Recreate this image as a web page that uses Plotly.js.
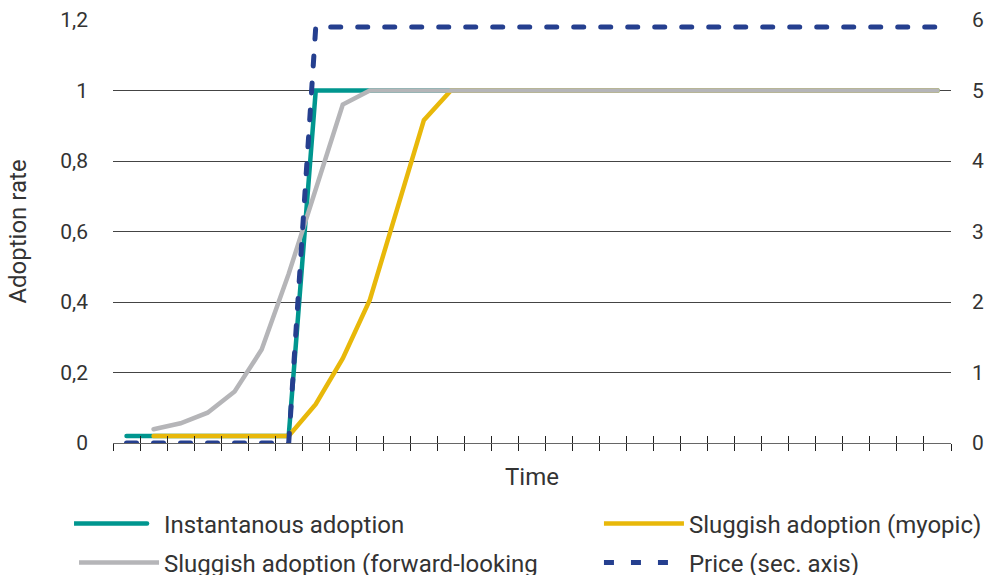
<!DOCTYPE html>
<html>
<head>
<meta charset="utf-8">
<script src="https://cdn.plot.ly/plotly-3.0.1.min.js"></script>
<style>
html,body{margin:0;padding:0;background:#fff;}
#chart{width:988px;height:575px;}
.scatterlayer .js-line{stroke-linecap:round;}
</style>
</head>
<body>
<div id="chart"></div>
<script>
// Time steps (category index along the x axis)
const time = [0,1,2,3,4,5,6,7,8,9,10,11,12,13,14,15,16,17,18,19,20,21,22,23,24,25,26,27,28,29,30];

// Adoption rate series (left axis)
const instantaneous = [0.02,0.02,0.02,0.02,0.02,0.02,0.02,1,1,1,1,1,1,1,1,1,1,1,1,1,1,1,1,1,1,1,1,1,1,1,1];
const myopic = [null,0.02,0.02,0.02,0.02,0.02,0.02,0.11,0.24,0.406,0.66,0.916,1,1,1,1,1,1,1,1,1,1,1,1,1,1,1,1,1,1,1];
const forwardLooking = [null,0.039,0.056,0.086,0.146,0.265,0.48,0.72,0.96,1,1,1,1,1,1,1,1,1,1,1,1,1,1,1,1,1,1,1,1,1,1];

// Price series (secondary axis)
const price = [0,0,0,0,0,0,0,5.9,5.9,5.9,5.9,5.9,5.9,5.9,5.9,5.9,5.9,5.9,5.9,5.9,5.9,5.9,5.9,5.9,5.9,5.9,5.9,5.9,5.9,5.9,5.9];

const names = ["Instantanous adoption","Sluggish adoption (myopic)","Sluggish adoption (forward-looking","Price (sec. axis)"];
const leftTicks = [0,0.2,0.4,0.6,0.8,1,1.2];
const rightTicks = [0,1,2,3,4,5,6];

const FONT = "Roboto, 'Noto Sans', sans-serif";
const TXT = "#333333";

const traces = [
  {x: time, y: instantaneous, name: names[0], type: "scatter", mode: "lines",
   line: {color: "#00968F", width: 4.5}, legend: "legend"},
  {x: time, y: myopic, name: names[1], type: "scatter", mode: "lines",
   line: {color: "#E8B80A", width: 4.5}, legend: "legend2"},
  {x: time, y: forwardLooking, name: names[2], type: "scatter", mode: "lines",
   line: {color: "#B5B5B8", width: 4.5}, legend: "legend3"},
  {x: time, y: price, name: names[3], type: "scatter", mode: "lines", yaxis: "y2",
   line: {color: "#253F8F", width: 5, dash: "10px,17px"}, legend: "legend4"},
  {x: [], y: [], xaxis: "x2", showlegend: false, hoverinfo: "skip", type: "scatter"}
];

function legendAt(x, y) {
  return {
    orientation: "h", x: x, xanchor: "left", y: y, yanchor: "middle",
    itemwidth: 80,
    font: {size: 24, family: FONT, color: TXT}, bgcolor: "rgba(0,0,0,0)"
  };
}

const xr = [-0.5, 30.5];
const layout = {
  width: 988, height: 575,
  margin: {l: 113, r: 37, t: 20, b: 132, autoexpand: false},
  paper_bgcolor: "#ffffff", plot_bgcolor: "#ffffff",
  separators: ", ",
  font: {family: FONT, color: TXT, size: 21},
  showlegend: true,
  xaxis: {
    range: xr, tickmode: "linear", tick0: -0.5, dtick: 1,
    ticks: "outside", ticklen: 7, tickwidth: 1, tickcolor: "#222",
    showticklabels: false, showgrid: false, zeroline: false,
    showline: true, linecolor: "#666", linewidth: 1,
    title: {text: "Time", font: {size: 24, family: FONT, color: TXT}, standoff: 18}
  },
  xaxis2: {
    overlaying: "x", anchor: "y", side: "bottom",
    range: xr, tickmode: "linear", tick0: -0.5, dtick: 1,
    ticks: "inside", ticklen: 7, tickwidth: 1, tickcolor: "#222",
    showticklabels: false, showgrid: false, zeroline: false, showline: false
  },
  yaxis: {
    range: [0, 1.2], tickmode: "array", tickvals: leftTicks,
    ticks: "", showgrid: true, gridcolor: "#444444", gridwidth: 1,
    zeroline: false, showline: false,
    tickfont: {size: 21, family: FONT, color: TXT},
    ticklabelstandoff: 24,
    title: {text: "Adoption rate", font: {size: 24, family: FONT, color: TXT}, standoff: 26}
  },
  yaxis2: {
    overlaying: "y", side: "right", range: [0, 6],
    tickmode: "array", tickvals: rightTicks,
    ticks: "", showgrid: false, zeroline: false, showline: false,
    tickfont: {size: 21, family: FONT, color: TXT},
    ticklabelstandoff: 20
  },
  legend: legendAt(-0.0465, -0.1915),
  legend2: legendAt(0.5799, -0.1915),
  legend3: legendAt(-0.0465, -0.2837),
  legend4: legendAt(0.5799, -0.2837)
};

// offset of the key line start from the legend text, per entry (left column 97, right column 102)
const keyOffset = {};
keyOffset[names[0]] = 97; keyOffset[names[2]] = 97;
keyOffset[names[1]] = 102; keyOffset[names[3]] = 102;

Plotly.newPlot("chart", traces, layout, {displayModeBar: false, staticPlot: true}).then(function (gd) {
  // stretch legend line samples to match the longer keys of the original
  gd.querySelectorAll(".legend .traces").forEach(function (g) {
    const t = g.querySelector("text.legendtext");
    const p = g.querySelectorAll("path.js-line");
    if (!t) return;
    const off = keyOffset[t.textContent] || 97;
    const tx = parseFloat(t.getAttribute("x")) || 40;
    p.forEach(function (el) {
      el.setAttribute("d", "M" + (tx - off) + ",0h80");
      el.style.strokeLinecap = "round";
    });
  });
});
</script>
</body>
</html>
